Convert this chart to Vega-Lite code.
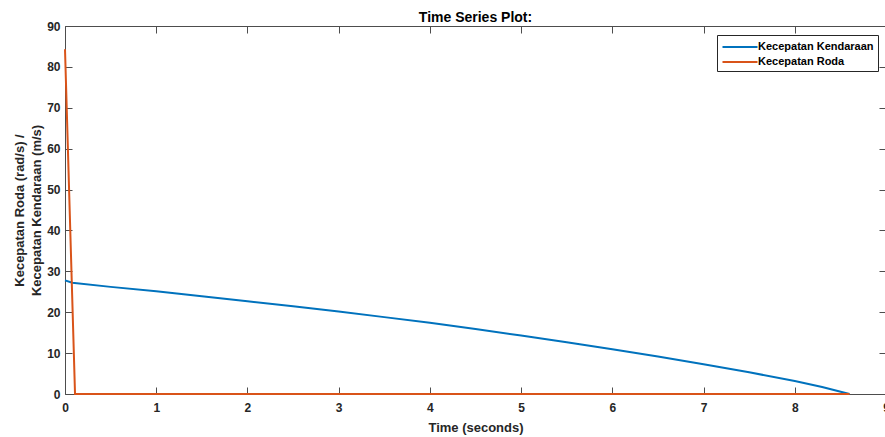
{
  "$schema": "https://vega.github.io/schema/vega-lite/v6.json",
  "autosize": {"type": "none"},
  "width": 821,
  "height": 368,
  "padding": {"left": 65, "top": 26, "right": 0, "bottom": 43},
  "background": "white",
  "config": {
    "view": {"stroke": null},
    "font": "Liberation Sans",
    "axis": {
      "grid": false,
      "domainColor": "#4d4d4d",
      "domainWidth": 1,
      "tickColor": "#4d4d4d",
      "tickWidth": 1,
      "tickSize": -7,
      "labelFont": "Liberation Sans",
      "labelFontSize": 12,
      "labelFontWeight": "bold",
      "labelColor": "#262626",
      "labelFlush": false,
      "labelOverlap": false,
      "titleFont": "Liberation Sans",
      "titleFontSize": 13,
      "titleFontWeight": "bold",
      "titleColor": "#262626"
    }
  },
  "title": {
    "text": "Time Series Plot:",
    "font": "Liberation Sans",
    "fontSize": 14,
    "fontWeight": "bold",
    "color": "#000000",
    "anchor": "middle",
    "offset": -5
  },
  "datasets": {
    "series": [
      {"time": 0, "speed": 27.8, "series": "Kecepatan Kendaraan"},
      {"time": 0.08, "speed": 27.2, "series": "Kecepatan Kendaraan"},
      {"time": 0.5, "speed": 26.2, "series": "Kecepatan Kendaraan"},
      {"time": 1, "speed": 25.1, "series": "Kecepatan Kendaraan"},
      {"time": 1.5, "speed": 23.9, "series": "Kecepatan Kendaraan"},
      {"time": 2, "speed": 22.7, "series": "Kecepatan Kendaraan"},
      {"time": 2.5, "speed": 21.45, "series": "Kecepatan Kendaraan"},
      {"time": 3, "speed": 20.2, "series": "Kecepatan Kendaraan"},
      {"time": 3.5, "speed": 18.8, "series": "Kecepatan Kendaraan"},
      {"time": 4, "speed": 17.4, "series": "Kecepatan Kendaraan"},
      {"time": 4.5, "speed": 15.9, "series": "Kecepatan Kendaraan"},
      {"time": 5, "speed": 14.3, "series": "Kecepatan Kendaraan"},
      {"time": 5.5, "speed": 12.65, "series": "Kecepatan Kendaraan"},
      {"time": 6, "speed": 10.95, "series": "Kecepatan Kendaraan"},
      {"time": 6.5, "speed": 9.15, "series": "Kecepatan Kendaraan"},
      {"time": 7, "speed": 7.3, "series": "Kecepatan Kendaraan"},
      {"time": 7.5, "speed": 5.3, "series": "Kecepatan Kendaraan"},
      {"time": 8, "speed": 3.2, "series": "Kecepatan Kendaraan"},
      {"time": 8.3, "speed": 1.7, "series": "Kecepatan Kendaraan"},
      {"time": 8.6, "speed": 0, "series": "Kecepatan Kendaraan"},
      {"time": 0, "speed": 84.3, "series": "Kecepatan Roda"},
      {"time": 0.11, "speed": 0, "series": "Kecepatan Roda"},
      {"time": 8.6, "speed": 0, "series": "Kecepatan Roda"}
    ]
  },
  "data": {"name": "series"},
  "layer": [
    {
      "mark": {"type": "line", "strokeWidth": 2, "clip": false},
      "encoding": {
        "x": {
          "field": "time", "type": "quantitative",
          "scale": {"domain": [0, 9], "nice": false, "zero": false},
          "axis": {"orient": "bottom", "title": "Time (seconds)", "values": [0,1,2,3,4,5,6,7,8,9], "format": "d", "labelPadding": 15, "titlePadding": 8}
        },
        "y": {
          "field": "speed", "type": "quantitative",
          "scale": {"domain": [0, 90], "nice": false},
          "axis": {"orient": "left", "title": ["Kecepatan Roda (rad/s) /", "Kecepatan Kendaraan (m/s)"], "values": [0,10,20,30,40,50,60,70,80,90], "format": "d", "labelPadding": 12, "titlePadding": 3, "titleLineHeight": 17}
        },
        "color": {
          "field": "series", "type": "nominal",
          "scale": {"domain": ["Kecepatan Kendaraan", "Kecepatan Roda"], "range": ["#0072BD", "#D95319"]},
          "legend": {
            "title": null,
            "orient": "none",
            "legendX": 652,
            "legendY": 9,
            "direction": "vertical",
            "strokeColor": "#262626",
            "fillColor": "white",
            "padding": 4,
            "symbolType": "M-2.5,0H2.5",
            "symbolSize": 196,
            "symbolStrokeWidth": 2,
            "symbolOffset": 11,
            "labelFont": "Liberation Sans",
            "labelFontSize": 11,
            "labelFontWeight": "bold",
            "labelColor": "#000000",
            "labelOffset": 10,
            "rowPadding": 2
          }
        },
        "order": {"field": "time", "type": "quantitative"}
      }
    },
    {
      "mark": {"type": "line", "opacity": 0},
      "encoding": {
        "x": {
          "field": "time", "type": "quantitative",
          "scale": {"domain": [0, 9], "nice": false, "zero": false},
          "axis": {"orient": "top", "title": null, "labels": false, "values": [0,1,2,3,4,5,6,7,8,9]}
        },
        "y": {
          "field": "speed", "type": "quantitative",
          "scale": {"domain": [0, 90], "nice": false},
          "axis": {"orient": "right", "title": null, "labels": false, "values": [0,10,20,30,40,50,60,70,80,90]}
        },
        "detail": {"field": "series", "type": "nominal"}
      }
    }
  ],
  "resolve": {"axis": {"x": "independent", "y": "independent"}}
}
